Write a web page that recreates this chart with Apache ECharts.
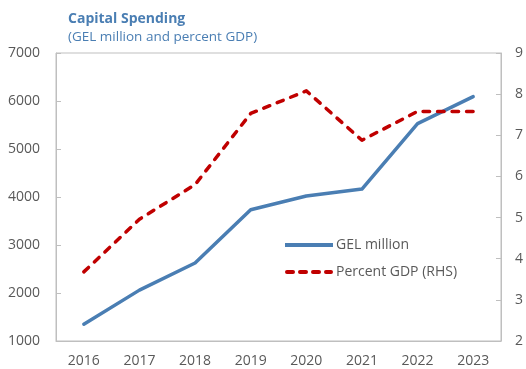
<!DOCTYPE html>
<html>
<head>
<meta charset="utf-8">
<script src="https://cdn.jsdelivr.net/npm/echarts@6/dist/echarts.min.js"></script>
<style>
  html, body { margin: 0; padding: 0; background: #fff; }
  #chart { width: 526px; height: 369px; }
</style>
</head>
<body>
<div id="chart"></div>
<script>
// Capital spending, 2016-2023
const years = ['2016', '2017', '2018', '2019', '2020', '2021', '2022', '2023'];
const gelMillion = [1350, 2060, 2625, 3735, 4020, 4165, 5530, 6090];
const percentGdp = [3.68, 4.96, 5.80, 7.53, 8.08, 6.88, 7.58, 7.58];
const leftTicks = { min: 1000, max: 7000, interval: 1000 };
const rightTicks = { min: 2, max: 9, interval: 1 };

const BLUE = '#4a7eb3';
const RED = '#c00000';
const AXIS = '#bfbfbf';
const LABEL = '#595959';
const FONT = 'Open Sans';

// legend swatches: a solid bar and a row of rounded dashes
const solidIcon = 'path://M0,0 L48,0 L48,4 L0,4 Z';
const dashIcon = 'path://' +
  'M2,0 L8,0 A2,2 0 0 1 8,4 L2,4 A2,2 0 0 1 2,0 Z ' +
  'M15,0 L21,0 A2,2 0 0 1 21,4 L15,4 A2,2 0 0 1 15,0 Z ' +
  'M28,0 L34,0 A2,2 0 0 1 34,4 L28,4 A2,2 0 0 1 28,0 Z ' +
  'M41,0 L46,0 A2,2 0 0 1 46,4 L41,4 A2,2 0 0 1 41,0 Z';

const chart = echarts.init(document.getElementById('chart'), null, { renderer: 'canvas' });

chart.setOption({
  animation: false,
  textStyle: { fontFamily: FONT },
  title: {
    text: 'Capital Spending',
    subtext: '(GEL million and percent GDP)',
    left: 63,
    top: 7,
    itemGap: 4,
    textStyle: { fontFamily: FONT, fontSize: 14, fontWeight: 'bold', color: BLUE },
    subtextStyle: { fontFamily: FONT, fontSize: 13.5, color: BLUE }
  },
  grid: {
    left: 56, right: 25, top: 53, bottom: 28,
    show: true, borderColor: AXIS, borderWidth: 1, backgroundColor: 'transparent'
  },
  legend: {
    orient: 'vertical',
    left: 280,
    top: 233,
    itemWidth: 48,
    itemHeight: 4,
    itemGap: 13,
    textStyle: { fontFamily: FONT, fontSize: 14, color: LABEL, padding: [0, 0, 0, -2] },
    data: [
      { name: 'GEL million', icon: solidIcon, itemStyle: { color: BLUE } },
      { name: 'Percent GDP (RHS)', icon: dashIcon, itemStyle: { color: RED } }
    ]
  },
  xAxis: {
    type: 'category',
    data: years,
    boundaryGap: true,
    axisLine: { lineStyle: { color: AXIS, width: 1 } },
    axisTick: { inside: true, length: 6, lineStyle: { color: AXIS } },
    axisLabel: { fontFamily: FONT, fontSize: 14, color: LABEL, margin: 13 }
  },
  yAxis: [
    {
      type: 'value',
      min: leftTicks.min, max: leftTicks.max, interval: leftTicks.interval,
      axisLine: { show: true, lineStyle: { color: AXIS } },
      axisTick: { show: true, inside: true, length: 5, lineStyle: { color: AXIS } },
      splitLine: { show: false },
      axisLabel: { fontFamily: FONT, fontSize: 14, color: LABEL, margin: 16, formatter: v => String(v) }
    },
    {
      type: 'value',
      position: 'right',
      min: rightTicks.min, max: rightTicks.max, interval: rightTicks.interval,
      axisLine: { show: true, lineStyle: { color: AXIS } },
      axisTick: { show: true, inside: true, length: 5, lineStyle: { color: AXIS } },
      splitLine: { show: false },
      axisLabel: { fontFamily: FONT, fontSize: 14, color: LABEL, margin: 14, formatter: v => String(v) }
    }
  ],
  series: [
    {
      name: 'GEL million',
      type: 'line',
      yAxisIndex: 0,
      data: gelMillion,
      symbol: 'none',
      lineStyle: { color: BLUE, width: 3.5, cap: 'round', join: 'round' },
      itemStyle: { color: BLUE }
    },
    {
      name: 'Percent GDP (RHS)',
      type: 'line',
      yAxisIndex: 1,
      data: percentGdp,
      symbol: 'none',
      lineStyle: { color: RED, width: 3.5, type: [6.5, 8], cap: 'round', join: 'round' },
      itemStyle: { color: RED }
    }
  ]
});
</script>
</body>
</html>
